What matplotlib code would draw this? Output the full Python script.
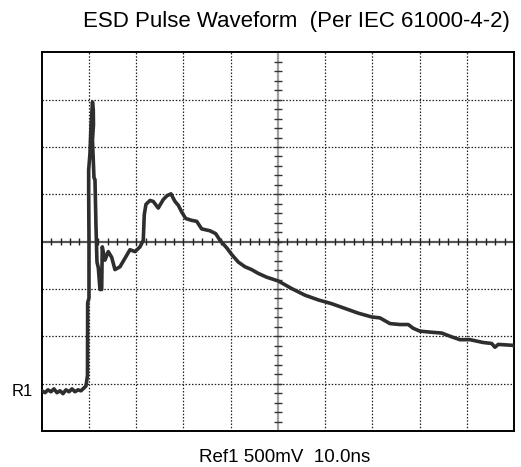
import numpy as np
import matplotlib.pyplot as plt

plt.rcParams['font.family'] = ['Liberation Sans', 'DejaVu Sans']

# SCOPE SETTINGS
volts_per_div = 0.5
ns_per_div = 10.0
r1_div = 0.83      # R1 reference level, divisions above screen bottom

# TRACE: time in ns, volts above R1
t_ns = [0.06, 0.70, 1.33, 1.97, 2.60, 3.24, 3.87, 4.51, 5.14, 5.78, 6.41, 7.05,
        7.68, 8.32, 8.95, 9.37, 9.69, 9.73, 10.01, 10.01, 9.94, 9.94, 10.22,
        10.43, 10.75, 10.92, 10.96, 10.75, 11.07, 11.28, 11.49, 11.70, 11.98,
        12.34, 12.70, 12.82, 13.39, 14.09, 14.81, 15.51, 16.57, 17.63, 18.68,
        19.74, 20.80, 21.50, 21.71, 22.07, 22.92, 23.61, 24.67, 25.73, 26.51,
        27.36, 28.21, 28.90, 29.62, 30.47, 31.74, 32.80, 33.86, 35.61, 36.82,
        37.73, 39.15, 40.20, 41.60, 43.02, 44.43, 45.83, 47.61, 50.06, 52.90,
        55.71, 58.53, 61.36, 64.18, 66.99, 69.83, 71.58, 73.70, 75.81, 77.57,
        78.63, 80.04, 82.16, 84.64, 86.75, 88.51, 90.63, 93.44, 95.22, 95.92,
        96.61, 99.79, 100.0]
volts = [0.01, -0.01, 0.02, 0.00, 0.03, -0.01, 0.01, -0.02, 0.02, 0.00, 0.03, 0.00,
         0.02, 0.01, 0.04, 0.06, 0.17, 0.94, 0.99, 1.60, 2.13, 2.34, 2.52,
         2.80, 3.06, 2.98, 2.82, 2.66, 2.26, 2.24, 1.75, 1.37, 1.31,
         1.08, 1.08, 1.53, 1.39, 1.48, 1.42, 1.29, 1.32, 1.41, 1.50,
         1.48, 1.53, 1.60, 1.87, 1.98, 2.02, 2.01, 1.94, 2.03, 2.07,
         2.09, 2.01, 1.97, 1.90, 1.83, 1.81, 1.80, 1.72, 1.70, 1.67,
         1.60, 1.52, 1.45, 1.37, 1.32, 1.29, 1.25, 1.21, 1.17, 1.09,
         1.02, 0.97, 0.93, 0.88, 0.83, 0.79, 0.78, 0.72, 0.71, 0.71,
         0.67, 0.64, 0.63, 0.62, 0.58, 0.55, 0.55, 0.52, 0.51, 0.47,
         0.50, 0.49, 0.48]

y_lo = -r1_div * volts_per_div
y_hi = y_lo + 8 * volts_per_div
x_c = 5 * ns_per_div
y_c = y_lo + 4 * volts_per_div

fig = plt.figure(figsize=(5.21, 4.67), dpi=100)
ax = fig.add_axes([0.080, 0.077, 0.907, 0.811])
ax.set_xlim(0, 10 * ns_per_div)
ax.set_ylim(y_lo, y_hi)

# GRATICULE
dots = (0, (1.2, 1.4))
for i in range(1, 10):
    if i != 5:
        ax.axvline(i * ns_per_div, color='#222222', lw=0.9, ls=dots, zorder=1)
for j in range(1, 8):
    if j != 4:
        ax.axhline(y_lo + j * volts_per_div, color='#222222', lw=0.9, ls=dots, zorder=1)

# centre crosshair with minor ticks (5 per division)
ax.axvline(x_c, color='#a0a0a0', lw=1.6, zorder=2)
ax.axhline(y_c, color='#555555', lw=1.6, zorder=2)
xm = np.arange(1, 50) * ns_per_div / 5
ax.vlines(xm, y_c - 0.035, y_c + 0.035, color='#222222', lw=1.0, zorder=3)
ym = y_lo + np.arange(1, 40) * volts_per_div / 5
ax.hlines(ym, x_c - 0.85, x_c + 0.85, color='#333333', lw=1.0, zorder=3)

# TRACE
ax.plot(t_ns, volts, color='#2e2e2e', lw=2.6, solid_joinstyle='round', zorder=5)

ax.annotate('R1', xy=(0, 0), xytext=(-6, 0), textcoords='offset points',
            ha='right', va='center', fontsize=12)

ax.set_xticks([])
ax.set_yticks([])
for s in ax.spines.values():
    s.set_linewidth(1.4)
    s.set_color('black')

fig.text(296 / 521, 1 - 21 / 467, 'ESD Pulse Waveform  (Per IEC 61000-4-2)',
         ha='center', va='center', fontsize=16)
fig.text(284.5 / 521, 1 - 458 / 467, 'Ref1 500mV  10.0ns',
         ha='center', va='center', fontsize=13.5)

plt.savefig('out.png', dpi=100)
